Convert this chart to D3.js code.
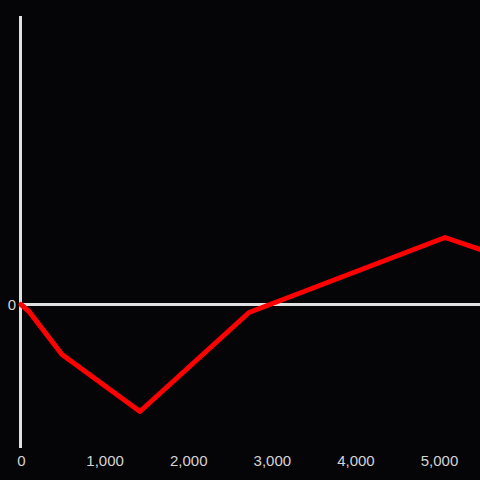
<!DOCTYPE html>
<html><head><meta charset="utf-8">
<script src="https://cdn.jsdelivr.net/npm/d3@7"></script>
<style>html,body{margin:0;padding:0;background:#050407;}</style>
</head><body>
<svg id="c" width="480" height="480"></svg>
<script>
const xValues = [0, 96, 490, 1423, 2727, 5072, 5490];
const yValues = [0, -7, -50, -107, -8, 67, 55];
const xTicks = [0, 1000, 2000, 3000, 4000, 5000];
const yTicks = [0];

const svg = d3.select("#c");
svg.append("rect").attr("width",480).attr("height",480).attr("fill","#050407");
const x = d3.scaleLinear().domain([0, 5490]).range([21, 480]);
const y = d3.scaleLinear().domain([-143.5, 288.5]).range([448, 16]);

// x tick labels
const xa = svg.append("g").attr("transform","translate(0,461)")
  .call(d3.axisBottom(x).tickValues(xTicks).tickFormat(d3.format(",")).tickSize(0).tickPadding(0));
xa.select(".domain").remove();
xa.selectAll("text").attr("fill","#d4d4d4").attr("font-family","Liberation Sans, Arial, sans-serif").attr("font-size",15).attr("dy","0.35em");

// y axis labels
const ya = svg.append("g").attr("transform","translate(16,0)")
  .call(d3.axisLeft(y).tickValues(yTicks).tickSize(0).tickPadding(0));
ya.select(".domain").remove();
ya.selectAll("text").attr("fill","#d4d4d4").attr("font-family","Liberation Sans, Arial, sans-serif").attr("font-size",15);

// zero line
svg.append("line").attr("x1",20).attr("x2",480).attr("y1",y(0)).attr("y2",y(0))
  .attr("stroke","#e0e0e0").attr("stroke-width",3);
// y axis line
svg.append("line").attr("x1",20.5).attr("x2",20.5).attr("y1",y(288.5)).attr("y2",y(-143.5))
  .attr("stroke","#e0e0e0").attr("stroke-width",3);

const line = d3.line().x((d,i)=>x(xValues[i])).y(d=>y(d));
svg.append("path").datum(yValues).attr("d",line).attr("fill","none")
  .attr("stroke","#ff0000").attr("stroke-width",5).attr("stroke-linejoin","round").attr("stroke-linecap","round");
</script>
</body></html>
